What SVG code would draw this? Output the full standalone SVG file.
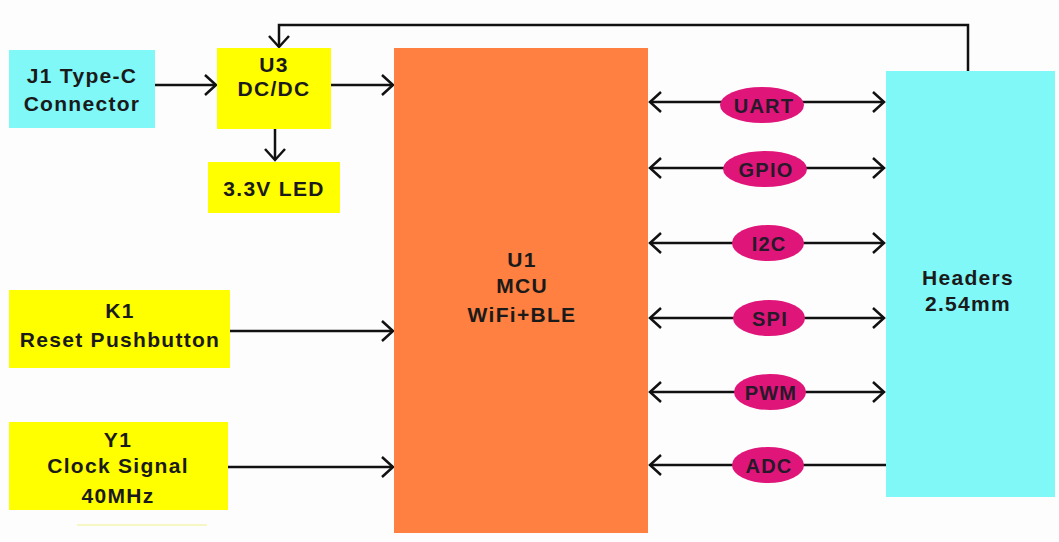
<svg xmlns="http://www.w3.org/2000/svg" width="1059" height="542" viewBox="0 0 1059 542">
<style>
.t{font-family:"Liberation Sans",Arial,sans-serif;font-weight:bold;font-size:21px;letter-spacing:1.3px;fill:#1a1a1a;text-anchor:middle}
.b{font-family:"Liberation Sans",Arial,sans-serif;font-weight:bold;font-size:20px;letter-spacing:1.2px;fill:#261a2a;text-anchor:middle}
.c{fill:none;stroke:#111;stroke-width:2.5}
.y{fill:#ffff00}
.cy{fill:#80f8f8}
.e{fill:#e0157a}
</style>
<defs>
<marker id="a" markerUnits="userSpaceOnUse" markerWidth="16" markerHeight="24" viewBox="0 0 16 24" refX="13" refY="12" orient="auto-start-reverse">
<path d="M2,2 L13,12 L2,22" fill="none" stroke="#111" stroke-width="2.5"/>
</marker>
</defs>
<rect width="1059" height="542" fill="#fdfdfd"/>
<line x1="77" y1="525" x2="207" y2="525" stroke="#f4f4b0" stroke-width="1.5"/>
<g id="connectors">
<line class="c" x1="155" y1="85" x2="216" y2="85" marker-end="url(#a)"/>
<line class="c" x1="331" y1="85" x2="393" y2="85" marker-end="url(#a)"/>
<line class="c" x1="275" y1="129" x2="275" y2="160" marker-end="url(#a)"/>
<polyline class="c" points="968,71 968,25 279,25 279,47" marker-end="url(#a)"/>
<line class="c" x1="230" y1="331" x2="393" y2="331" marker-end="url(#a)"/>
<line class="c" x1="228" y1="467" x2="393" y2="467" marker-end="url(#a)"/>
<line class="c" x1="650" y1="102" x2="884" y2="102" marker-start="url(#a)" marker-end="url(#a)"/>
<line class="c" x1="650" y1="168" x2="884" y2="168" marker-start="url(#a)" marker-end="url(#a)"/>
<line class="c" x1="650" y1="243" x2="884" y2="243" marker-start="url(#a)" marker-end="url(#a)"/>
<line class="c" x1="650" y1="318" x2="884" y2="318" marker-start="url(#a)" marker-end="url(#a)"/>
<line class="c" x1="650" y1="392" x2="884" y2="392" marker-start="url(#a)" marker-end="url(#a)"/>
<line class="c" x1="650" y1="465" x2="886" y2="465" marker-start="url(#a)"/>
</g>
<g id="J1"><rect class="cy" x="9" y="50" width="146" height="78"/><text class="t" x="82" y="83">J1 Type-C</text><text class="t" x="82" y="111">Connector</text></g>
<g id="U3"><rect class="y" x="217" y="48" width="114" height="81"/><text class="t" x="274" y="72">U3</text><text class="t" x="274" y="96">DC/DC</text></g>
<g id="LED"><rect class="y" x="208" y="162" width="132" height="51"/><text class="t" x="274" y="196">3.3V LED</text></g>
<g id="K1"><rect class="y" x="9" y="290" width="221" height="78"/><text class="t" x="120" y="318">K1</text><text class="t" x="120" y="347">Reset Pushbutton</text></g>
<g id="Y1"><rect class="y" x="9" y="422" width="219" height="88"/><text class="t" x="118" y="447">Y1</text><text class="t" x="118" y="473">Clock Signal</text><text class="t" x="118" y="503">40MHz</text></g>
<g id="U1"><rect x="394" y="48" width="254" height="485" fill="#ff8040"/><text class="t" x="522" y="267">U1</text><text class="t" x="522" y="293">MCU</text><text class="t" x="522" y="322">WiFi+BLE</text></g>
<g id="Headers"><rect class="cy" x="886" y="71" width="169" height="426"/><text class="t" x="968" y="285">Headers</text><text class="t" x="968" y="311">2.54mm</text></g>
<g id="UART"><ellipse class="e" cx="762" cy="105" rx="42" ry="18"/><text class="b" x="764" y="113">UART</text></g>
<g id="GPIO"><ellipse class="e" cx="765" cy="169" rx="42" ry="18"/><text class="b" x="766" y="177">GPIO</text></g>
<g id="I2C"><ellipse class="e" cx="768" cy="243" rx="36" ry="18"/><text class="b" x="769" y="251">I2C</text></g>
<g id="SPI"><ellipse class="e" cx="769" cy="318" rx="36" ry="18"/><text class="b" x="770" y="326">SPI</text></g>
<g id="PWM"><ellipse class="e" cx="770" cy="392" rx="36" ry="18"/><text class="b" x="771" y="400">PWM</text></g>
<g id="ADC"><ellipse class="e" cx="768" cy="465" rx="36" ry="18"/><text class="b" x="769" y="473">ADC</text></g>
</svg>
